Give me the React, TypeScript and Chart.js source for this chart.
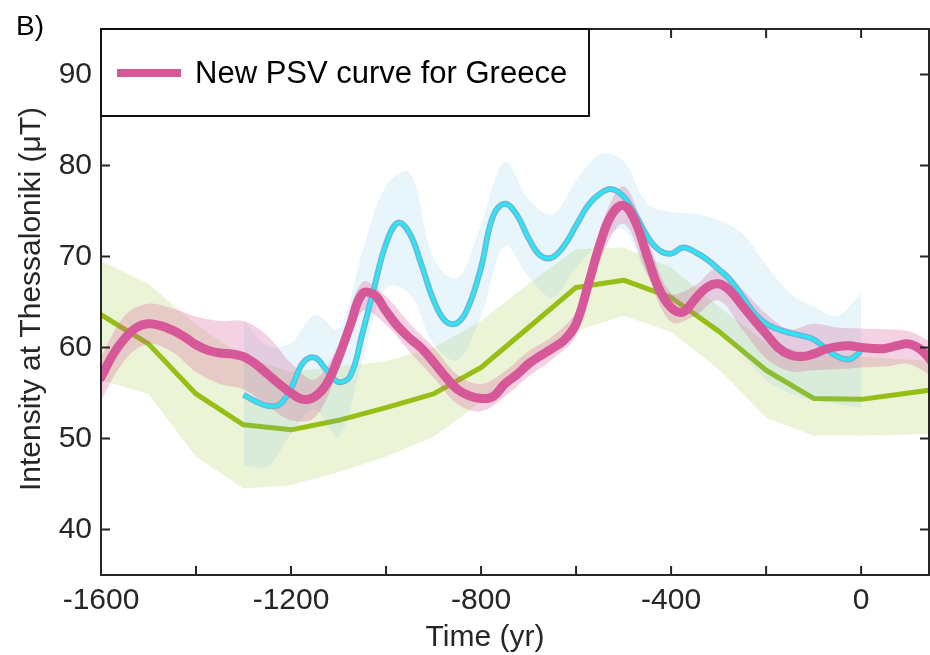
import { useEffect, useRef } from 'react';
import { Chart, registerables } from 'chart.js';

Chart.register(...registerables);

const FONT = '"Liberation Sans", Arial, Helvetica, sans-serif';
const AXIS_COLOR = '#262626';

// Tick positions / labels
const xTicks = [-1600, -1400, -1200, -1000, -800, -600, -400, -200, 0];
const xTickLabels = [-1600, -1200, -800, -400, 0];
const yTicks = [40, 50, 60, 70, 80, 90];

// New PSV curve for Greece (pink)
const psvYears = [
  -1600, -1575, -1550, -1525, -1500, -1475, -1450, -1425, -1400, -1375, -1350, -1325,
  -1300, -1275, -1250, -1225, -1200, -1175, -1150, -1125, -1100, -1075, -1050, -1025,
  -1000, -975, -950, -925, -900, -875, -850, -825, -800, -775, -750, -725,
  -700, -675, -650, -625, -600, -575, -550, -525, -500, -475, -450, -425,
  -400, -375, -350, -325, -300, -275, -250, -225, -200, -175, -150, -125,
  -100, -75, -50, -25, 0, 25, 50, 75, 100, 125, 150,
];
const psvValues = [
  56.7, 59.2, 61.0, 62.2, 62.6, 62.4, 61.9, 61.2, 60.3, 59.7, 59.4, 59.3,
  59.0, 58.2, 57.1, 56.0, 55.0, 54.3, 54.6, 56.0, 58.9, 62.5, 65.9, 65.8,
  64.0, 62.3, 61.0, 59.9, 58.4, 56.8, 55.4, 54.7, 54.4, 54.6, 56.0, 57.0,
  58.2, 59.1, 59.9, 60.8, 62.6, 66.8, 71.3, 74.6, 75.6, 73.8, 70.0, 66.4,
  64.4, 63.9, 65.3, 66.6, 67.0, 66.2, 64.6, 63.0, 61.5, 60.0, 59.2, 59.0,
  59.3, 59.8, 60.1, 60.2, 60.0, 59.9, 59.9, 60.2, 60.4, 59.8, 58.4,
];
const psvBandYears = [
  -1600, -1550, -1500, -1450, -1400, -1350, -1300, -1250, -1200, -1150, -1100, -1050,
  -1000, -950, -900, -850, -800, -750, -700, -650, -600, -550, -500, -450,
  -400, -350, -300, -250, -200, -150, -100, -50, 0, 50, 100, 150,
];
const psvUpper = [
  59.0, 63.5, 64.8, 64.3, 63.4, 62.9, 62.9, 61.3, 58.3, 56.5, 60.3, 67.2,
  65.6, 62.6, 60.0, 57.0, 56.0, 57.4, 59.6, 61.2, 64.0, 73.0, 77.7, 72.0,
  66.0, 66.8, 68.8, 66.4, 63.7, 62.0, 62.6, 62.2, 62.1, 62.0, 61.8, 60.5,
];
const psvLower = [
  54.2, 58.6, 60.4, 59.5, 57.3, 56.0, 55.4, 53.6, 52.0, 52.3, 57.5, 64.0,
  62.5, 59.5, 56.7, 53.8, 53.0, 54.6, 56.8, 58.7, 61.3, 69.5, 73.6, 68.0,
  62.8, 63.5, 65.2, 62.0, 58.8, 57.4, 57.5, 57.6, 57.8, 57.9, 58.2, 56.8,
];

// Cyan curve
const cyanYears = [
  -1300, -1275, -1250, -1225, -1200, -1175, -1150, -1125, -1100, -1075, -1050, -1025,
  -1000, -975, -950, -925, -900, -875, -850, -825, -800, -775, -750, -725,
  -700, -675, -650, -625, -600, -575, -550, -525, -500, -475, -450, -425,
  -400, -375, -350, -325, -300, -275, -250, -225, -200, -175, -150, -125,
  -100, -75, -50, -25, 0,
];
const cyanValues = [
  54.8, 54.1, 53.6, 53.7, 55.5, 58.3, 58.9, 57.5, 56.2, 56.9, 61.5, 66.6,
  71.4, 73.7, 72.5, 69.0, 65.2, 62.9, 62.7, 64.7, 68.8, 74.4, 75.8, 74.6,
  72.0, 70.1, 69.9, 71.2, 73.4, 75.6, 76.9, 77.4, 76.6, 74.6, 72.2, 70.7,
  70.3, 71.0, 70.5, 69.7, 68.6, 67.4, 65.6, 63.8, 62.6, 62.0, 61.6, 61.3,
  60.9, 59.9, 59.0, 58.7, 59.6,
];
const cyanBandYears = [
  -1300, -1250, -1200, -1150, -1100, -1050, -1000, -950, -900, -850, -800, -750,
  -700, -650, -600, -550, -500, -450, -400, -350, -300, -250, -200, -150,
  -100, -50, 0,
];
const cyanUpper = [
  63.0, 60.2, 60.5, 63.6, 62.0, 70.5, 77.8, 79.2, 69.8, 67.6, 73.5, 80.4,
  76.3, 74.6, 78.3, 81.2, 80.5, 75.8, 74.9, 74.7, 74.0, 72.5, 69.1, 66.0,
  64.5, 63.5, 66.0,
];
const cyanLower = [
  47.0, 46.9, 50.5, 53.2, 50.2, 58.5, 66.6, 65.9, 60.4, 58.6, 63.5, 71.2,
  67.8, 65.5, 68.8, 71.4, 73.0, 68.0, 65.3, 63.8, 62.0, 59.2, 56.4, 55.0,
  54.2, 53.8, 53.4,
];

// Green curve
const greenYears = [-1600, -1500, -1400, -1300, -1200, -1100, -1000, -900, -800, -700, -600, -500, -400, -300, -200, -100, 0, 150];
const greenValues = [63.6, 60.4, 54.9, 51.5, 50.95, 52.0, 53.4, 54.9, 57.8, 62.2, 66.6, 67.4, 65.5, 61.8, 57.5, 54.4, 54.3, 55.35];
const greenUpper = [69.5, 67.0, 62.5, 59.0, 57.3, 57.9, 58.5, 60.0, 62.9, 67.0, 70.8, 71.0, 68.8, 64.5, 60.5, 59.3, 59.0, 58.5];
const greenLower = [56.4, 54.9, 48.0, 44.5, 44.85, 46.3, 48.0, 50.2, 54.0, 58.0, 61.8, 63.5, 61.7, 57.6, 52.3, 50.3, 50.3, 50.5];

const LEGEND_LABEL = 'New PSV curve for Greece';
const PINK = 'rgb(214,88,152)';

const mk = (xs: number[], ys: number[]) => xs.map((x, i) => ({ x, y: ys[i] }));

const framePlugin = {
  id: 'frame',
  afterDraw(chart: any) {
    const { ctx, chartArea, scales } = chart;
    const { left, right, top, bottom } = chartArea;
    const xs = scales.x;
    const ys = scales.y;
    const r = right - 1;
    ctx.save();
    ctx.strokeStyle = AXIS_COLOR;
    ctx.lineWidth = 2;
    ctx.lineCap = 'butt';
    ctx.beginPath();
    ctx.rect(left, top, r - left, bottom - top);
    ctx.stroke();
    ctx.beginPath();
    const tl = 9;
    xTicks.forEach((v) => {
      const px = xs.getPixelForValue(v);
      ctx.moveTo(px, bottom);
      ctx.lineTo(px, bottom - tl);
      ctx.moveTo(px, top);
      ctx.lineTo(px, top + tl);
    });
    yTicks.forEach((v) => {
      const py = ys.getPixelForValue(v);
      ctx.moveTo(left, py);
      ctx.lineTo(left + tl, py);
      ctx.moveTo(r, py);
      ctx.lineTo(r - tl, py);
    });
    ctx.stroke();

    // Legend box
    ctx.fillStyle = '#ffffff';
    ctx.fillRect(left, top, 589 - left, 116 - top);
    ctx.strokeStyle = '#111111';
    ctx.lineWidth = 2;
    ctx.strokeRect(left, top, 589 - left, 116 - top);
    ctx.strokeStyle = PINK;
    ctx.lineWidth = 8;
    ctx.beginPath();
    ctx.moveTo(117, 73);
    ctx.lineTo(181, 73);
    ctx.stroke();
    ctx.fillStyle = '#000000';
    ctx.font = `31px ${FONT}`;
    ctx.textAlign = 'left';
    ctx.textBaseline = 'alphabetic';
    ctx.fillText(LEGEND_LABEL, 195, 83);

    // Panel label
    ctx.font = `28px ${FONT}`;
    ctx.fillText('B)', 16, 35);

    // Axis titles
    ctx.fillStyle = AXIS_COLOR;
    ctx.font = `30px ${FONT}`;
    ctx.textAlign = 'center';
    ctx.fillText('Time (yr)', 485, 646);
    ctx.translate(40, 299);
    ctx.rotate(-Math.PI / 2);
    ctx.fillText('Intensity at Thessaloniki (\u03bcT)', 0, 0);
    ctx.restore();
  },
};

export default function App() {
  const ref = useRef<HTMLCanvasElement>(null);
  useEffect(() => {
    const canvas = ref.current;
    if (!canvas) return;
    const bandBase = { pointRadius: 0, borderWidth: 0, borderColor: 'rgba(0,0,0,0)', clip: 0 };
    const chart = new Chart(canvas, {
      type: 'line',
      data: {
        datasets: [
          { ...bandBase, label: 'green upper', data: mk(greenYears, greenUpper), fill: '+1', backgroundColor: 'rgba(160,200,60,0.2)', tension: 0, order: 10 },
          { ...bandBase, label: 'green lower', data: mk(greenYears, greenLower), fill: false, tension: 0, order: 10 },
          { label: 'green', data: mk(greenYears, greenValues), pointRadius: 0, borderWidth: 5, borderColor: 'rgb(150,190,20)', fill: false, tension: 0, order: 9, clip: 0, borderJoinStyle: 'round' },
          { ...bandBase, label: 'cyan upper', data: mk(cyanBandYears, cyanUpper), fill: '+1', backgroundColor: 'rgba(100,190,220,0.15)', tension: 0.35, order: 8 },
          { ...bandBase, label: 'cyan lower', data: mk(cyanBandYears, cyanLower), fill: false, tension: 0.35, order: 8 },
          { ...bandBase, label: 'pink upper', data: mk(psvBandYears, psvUpper), fill: '+1', backgroundColor: 'rgba(214,88,152,0.27)', tension: 0.35, order: 7 },
          { ...bandBase, label: 'pink lower', data: mk(psvBandYears, psvLower), fill: false, tension: 0.35, order: 7 },
          { label: 'cyan outline', data: mk(cyanYears, cyanValues), pointRadius: 0, borderWidth: 6, borderColor: 'rgb(115,180,212)', fill: false, tension: 0.4, order: 6, clip: 0 },
          { label: 'cyan', data: mk(cyanYears, cyanValues), pointRadius: 0, borderWidth: 3, borderColor: 'rgb(40,232,245)', fill: false, tension: 0.4, order: 5, clip: 0 },
          { label: LEGEND_LABEL, data: mk(psvYears, psvValues), pointRadius: 0, borderWidth: 9, borderColor: PINK, fill: false, tension: 0.4, order: 4, clip: 0, borderCapStyle: 'round', borderJoinStyle: 'round' },
        ] as any,
      },
      options: {
        responsive: false,
        animation: false,
        devicePixelRatio: 1,
        layout: { padding: { top: 29, right: 0, left: 0, bottom: 0 } },
        plugins: { legend: { display: false }, tooltip: { enabled: false } },
        scales: {
          x: {
            type: 'linear',
            min: -1600,
            max: 145,
            afterBuildTicks: (s: any) => { s.ticks = xTicks.map((v) => ({ value: v })); },
            afterFit: (s: any) => { s.height = 80; },
            grid: { display: false, drawTicks: false },
            border: { display: false },
            ticks: {
              autoSkip: false,
              maxRotation: 0,
              padding: 8,
              color: AXIS_COLOR,
              font: { family: FONT, size: 30 },
              callback: (v: any) => (xTickLabels.includes(Number(v)) ? String(v) : ''),
            },
          },
          y: {
            type: 'linear',
            min: 35,
            max: 95,
            afterBuildTicks: (s: any) => { s.ticks = yTicks.map((v) => ({ value: v })); },
            afterFit: (s: any) => { s.width = 101; },
            grid: { display: false, drawTicks: false },
            border: { display: false },
            ticks: {
              padding: 9,
              color: AXIS_COLOR,
              font: { family: FONT, size: 30 },
              callback: (v: any) => String(v),
            },
          },
        },
      } as any,
      plugins: [framePlugin],
    });
    return () => chart.destroy();
  }, []);
  return (
    <div style={{ position: 'absolute', left: 0, top: 0, width: 930, height: 655, background: '#ffffff' }}>
      <canvas ref={ref} width={930} height={655} style={{ display: 'block', width: 930, height: 655 }} />
    </div>
  );
}
